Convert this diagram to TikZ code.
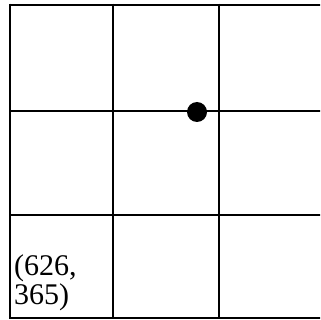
\documentclass[tikz,border=0pt]{standalone}
\usepackage{fontspec}
\setmainfont{Liberation Serif}
\begin{document}
\begin{tikzpicture}[x=1pt,y=-1pt,
  gridline/.style={line width=2.8pt,black},
  lbl/.style={anchor=base west,inner sep=0pt,font=\fontsize{30}{30}\selectfont}]
\useasboundingbox (0,0) rectangle (320,320);
\clip (0,0) rectangle (320,320);
\fill[white] (0,0) rectangle (320,320);
% grid
\draw[gridline] (10,5) -- (330,5);
\draw[gridline] (10,111) -- (330,111);
\draw[gridline] (10,215) -- (330,215);
\draw[gridline] (10,318) -- (330,318);
\draw[gridline] (10,3.6) -- (10,319.4);
\draw[gridline] (113,3.6) -- (113,319.4);
\draw[gridline] (219,3.6) -- (219,319.4);
% dot
\node[circle,fill=black,inner sep=0pt,minimum size=20pt] (dot) at (197,112) {};
% label
\node[lbl] (l1) at (14,275) {(626,};
\node[lbl] (l2) at (14,304) {365)};
\end{tikzpicture}
\end{document}
